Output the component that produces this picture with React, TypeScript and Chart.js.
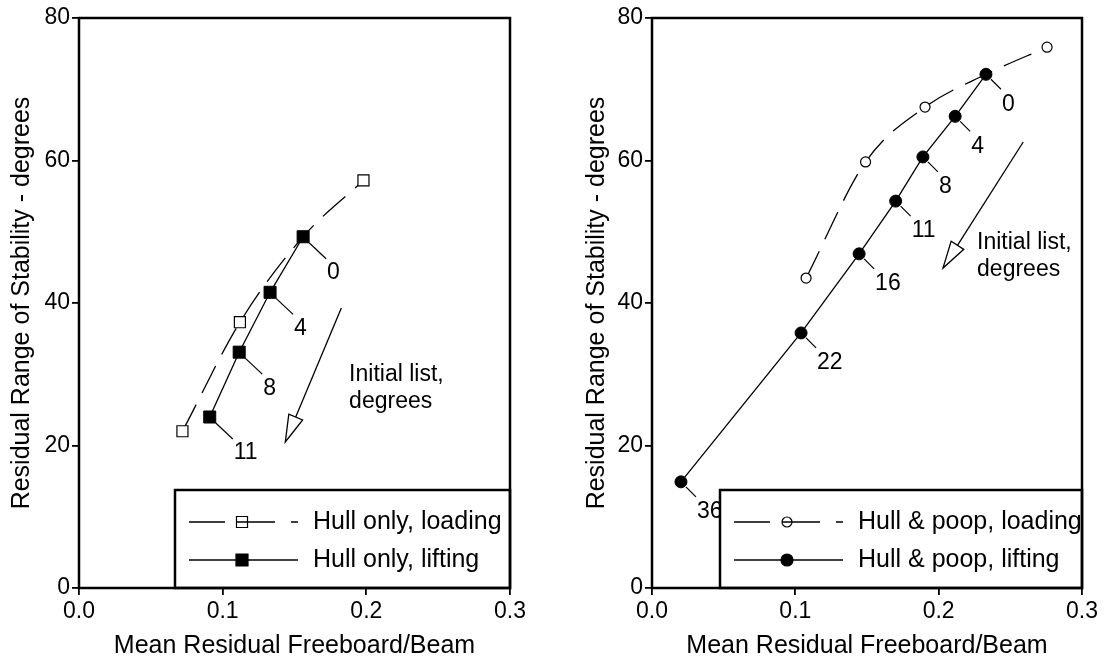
import React, { useEffect, useRef } from "react";
import { Chart, registerables } from "chart.js";

Chart.register(...registerables);

// ---------- data ----------
const xTicks = [0, 0.1, 0.2, 0.3];
const xTickLabels = ["0.0", "0.1", "0.2", "0.3"];
const yTicks = [0, 20, 40, 60, 80];
const yTickLabels = ["0", "20", "40", "60", "80"];

const xAxisTitle = "Mean Residual Freeboard/Beam";
const yAxisTitle = "Residual Range of Stability - degrees";
const noteLines = ["Initial list,", "degrees"];

// Left panel: hull only
const hullLoadingLabel = "Hull only, loading";
const hullLoadingX = [0.072, 0.112, 0.156, 0.198];
const hullLoadingY = [22.0, 37.3, 49.3, 57.2];
const hullLoadingShown = [true, true, false, true];

const hullLiftingLabel = "Hull only, lifting";
const hullLiftingX = [0.091, 0.1115, 0.133, 0.156];
const hullLiftingY = [24.0, 33.1, 41.5, 49.3];
const hullListLabels = ["11", "8", "4", "0"];

const hullArrowFrom = [0.1826, 39.3];
const hullArrowTo = [0.1436, 20.5];
const hullNoteAt = [0.188, 29.9];

// Right panel: hull & poop
const poopLoadingLabel = "Hull & poop, loading";
const poopLoadingX = [0.1075, 0.149, 0.1905, 0.233, 0.2756];
const poopLoadingY = [43.5, 59.8, 67.5, 72.1, 75.9];
const poopLoadingShown = [true, true, true, false, true];

const poopLiftingLabel = "Hull & poop, lifting";
const poopLiftingX = [0.0202, 0.104, 0.1445, 0.17, 0.189, 0.2115, 0.233];
const poopLiftingY = [14.9, 35.8, 46.9, 54.3, 60.5, 66.2, 72.1];
const poopListLabels = ["36", "22", "16", "11", "8", "4", "0"];

const poopArrowFrom = [0.259, 62.6];
const poopArrowTo = [0.203, 44.9];
const poopNoteAt = [0.2268, 48.4];

// ---------- styles ----------
const FONT = '"Liberation Sans", Arial, Helvetica, sans-serif';
const DASH = [30, 13];

type Panel = {
  loading: { label: string; x: number[]; y: number[]; shown: boolean[] };
  lifting: { label: string; x: number[]; y: number[]; tags: string[] };
  marker: "rect" | "circle";
  openRadius: number;
  filledRadius: number;
  arrowFrom: number[];
  arrowTo: number[];
  noteAt: number[];
  yAxisWidth: number;
  padRight: number;
  yTitlePad: number;
  legendLeft: number;
  tagText: { dx: number; dy: number; l0: number; l1x: number; l1y: number };
};

const panels: Panel[] = [
  {
    loading: { label: hullLoadingLabel, x: hullLoadingX, y: hullLoadingY, shown: hullLoadingShown },
    lifting: { label: hullLiftingLabel, x: hullLiftingX, y: hullLiftingY, tags: hullListLabels },
    marker: "rect",
    openRadius: 7.8,
    filledRadius: 8.5,
    arrowFrom: hullArrowFrom,
    arrowTo: hullArrowTo,
    noteAt: hullNoteAt,
    yAxisWidth: 79,
    padRight: 45,
    yTitlePad: 7,
    legendLeft: 175,
    tagText: { dx: 24, dy: 36, l0: 6, l1x: 23, l1y: 22 },
  },
  {
    loading: { label: poopLoadingLabel, x: poopLoadingX, y: poopLoadingY, shown: poopLoadingShown },
    lifting: { label: poopLiftingLabel, x: poopLiftingX, y: poopLiftingY, tags: poopListLabels },
    marker: "circle",
    openRadius: 5,
    filledRadius: 6,
    arrowFrom: poopArrowFrom,
    arrowTo: poopArrowTo,
    noteAt: poopNoteAt,
    yAxisWidth: 97,
    padRight: 28,
    yTitlePad: 27,
    legendLeft: 165,
    tagText: { dx: 16, dy: 30, l0: 5, l1x: 15, l1y: 15 },
  },
];

function drawMarker(
  ctx: CanvasRenderingContext2D,
  style: "rect" | "circle",
  x: number,
  y: number,
  r: number,
  filled: boolean
) {
  ctx.save();
  ctx.beginPath();
  if (style === "rect") {
    const s = r * Math.SQRT1_2;
    ctx.rect(x - s, y - s, 2 * s, 2 * s);
  } else {
    ctx.arc(x, y, r, 0, Math.PI * 2);
  }
  if (filled) {
    ctx.fillStyle = "#000";
    ctx.fill();
  }
  ctx.lineWidth = 1.2;
  ctx.strokeStyle = "#000";
  ctx.stroke();
  ctx.restore();
}

function makeOverlay(p: Panel) {
  return {
    id: "overlay",
    afterDraw(chart: any) {
      const ctx: CanvasRenderingContext2D = chart.ctx;
      const xs = chart.scales.x;
      const ys = chart.scales.y;
      const area = chart.chartArea;
      ctx.save();
      ctx.fillStyle = "#000";
      ctx.strokeStyle = "#000";

      // list tags with leader lines
      ctx.font = `23px ${FONT}`;
      ctx.textAlign = "left";
      ctx.textBaseline = "middle";
      ctx.lineWidth = 1.2;
      p.lifting.x.forEach((xv, i) => {
        const px = xs.getPixelForValue(xv);
        const py = ys.getPixelForValue(p.lifting.y[i]);
        const t = p.tagText;
        ctx.beginPath();
        ctx.moveTo(px + t.l0, py + t.l0);
        ctx.lineTo(px + t.l1x, py + t.l1y);
        ctx.stroke();
        ctx.fillText(p.lifting.tags[i], px + t.dx, py + t.dy);
      });

      // arrow
      const ax0 = xs.getPixelForValue(p.arrowFrom[0]);
      const ay0 = ys.getPixelForValue(p.arrowFrom[1]);
      const ax1 = xs.getPixelForValue(p.arrowTo[0]);
      const ay1 = ys.getPixelForValue(p.arrowTo[1]);
      const dx = ax1 - ax0;
      const dy = ay1 - ay0;
      const len = Math.hypot(dx, dy);
      const ux = dx / len;
      const uy = dy / len;
      const head = 27;
      const half = 7.5;
      const bx = ax1 - ux * head;
      const by = ay1 - uy * head;
      ctx.lineWidth = 1.3;
      ctx.beginPath();
      ctx.moveTo(ax0, ay0);
      ctx.lineTo(bx, by);
      ctx.stroke();
      ctx.beginPath();
      ctx.moveTo(ax1, ay1);
      ctx.lineTo(bx - uy * half, by + ux * half);
      ctx.lineTo(bx + uy * half, by - ux * half);
      ctx.closePath();
      ctx.fillStyle = "#fff";
      ctx.fill();
      ctx.stroke();

      // note
      ctx.fillStyle = "#000";
      const nx = xs.getPixelForValue(p.noteAt[0]);
      const ny = ys.getPixelForValue(p.noteAt[1]);
      noteLines.forEach((s, i) => ctx.fillText(s, nx, ny + i * 27));

      // legend box
      const ll = p.legendLeft;
      const lt = 490;
      ctx.fillStyle = "#fff";
      ctx.fillRect(ll, lt, area.right - ll, area.bottom - lt);
      ctx.lineWidth = 2.5;
      ctx.strokeRect(ll, lt, area.right - ll, area.bottom - lt);
      const rows = [
        { label: p.loading.label, dashed: true, filled: false, r: p.openRadius },
        { label: p.lifting.label, dashed: false, filled: true, r: p.filledRadius },
      ];
      rows.forEach((row, i) => {
        const ry = lt + 32 + i * 38;
        ctx.save();
        ctx.lineWidth = 1.3;
        ctx.strokeStyle = "#000";
        if (row.dashed) ctx.setLineDash([36, 12, 38, 16]);
        ctx.beginPath();
        ctx.moveTo(ll + 14, ry);
        ctx.lineTo(ll + 123, ry);
        ctx.stroke();
        ctx.restore();
        drawMarker(ctx, p.marker, ll + 67, ry, row.r, row.filled);
        ctx.fillStyle = "#000";
        ctx.font = `25px ${FONT}`;
        ctx.textAlign = "left";
        ctx.textBaseline = "middle";
        ctx.fillText(row.label, ll + 138, ry);
      });

      // frame
      ctx.lineWidth = 2.5;
      ctx.strokeStyle = "#000";
      ctx.strokeRect(area.left, area.top, area.right - area.left, area.bottom - area.top);
      ctx.restore();
    },
  };
}

function PanelChart({ p }: { p: Panel }) {
  const ref = useRef<HTMLCanvasElement | null>(null);
  useEffect(() => {
    if (!ref.current) return;
    const tickFont = { family: FONT, size: 23 };
    const titleFont = { family: FONT, size: 25 };
    const chart = new Chart(ref.current, {
      type: "line",
      data: {
        datasets: [
          {
            label: p.loading.label,
            data: p.loading.x.map((x, i) => ({ x, y: p.loading.y[i] })),
            borderColor: "#000",
            borderWidth: 1.3,
            borderDash: DASH,
            cubicInterpolationMode: "monotone",
            pointStyle: p.marker,
            pointRadius: p.loading.shown.map((s) => (s ? p.openRadius : 0)),
            pointBackgroundColor: "#fff",
            pointBorderColor: "#000",
            pointBorderWidth: 1.2,
            fill: false,
          },
          {
            label: p.lifting.label,
            data: p.lifting.x.map((x, i) => ({ x, y: p.lifting.y[i] })),
            borderColor: "#000",
            borderWidth: 1.3,
            tension: 0,
            pointStyle: p.marker,
            pointRadius: p.filledRadius,
            pointBackgroundColor: "#000",
            pointBorderColor: "#000",
            pointBorderWidth: 1,
            fill: false,
          },
        ],
      },
      options: {
        responsive: false,
        animation: false,
        devicePixelRatio: 1,
        layout: { padding: { top: 18, right: p.padRight, left: 0, bottom: 0 } },
        plugins: {
          legend: { display: false },
          tooltip: { enabled: false },
        },
        events: [],
        scales: {
          x: {
            type: "linear",
            min: 0,
            max: 0.3,
            afterBuildTicks: (s: any) => {
              s.ticks = xTicks.map((v) => ({ value: v }));
            },
            afterFit: (s: any) => {
              s.height = 79;
            },
            ticks: {
              autoSkip: false,
              maxRotation: 0,
              padding: 3,
              color: "#000",
              font: tickFont,
              callback: (v: any) => xTickLabels[xTicks.indexOf(Number(v))] ?? "",
            },
            grid: {
              display: true,
              drawOnChartArea: false,
              drawTicks: true,
              tickLength: 7,
              color: "#000",
              lineWidth: 1.8,
            },
            border: { display: false },
            title: {
              display: true,
              text: xAxisTitle,
              color: "#000",
              font: titleFont,
              padding: { top: 0, bottom: 6 },
            },
          },
          y: {
            type: "linear",
            min: 0,
            max: 80,
            afterBuildTicks: (s: any) => {
              s.ticks = yTicks.map((v) => ({ value: v }));
            },
            afterFit: (s: any) => {
              s.width = p.yAxisWidth;
            },
            ticks: {
              autoSkip: false,
              padding: 2,
              color: "#000",
              font: tickFont,
              callback: (v: any) => yTickLabels[yTicks.indexOf(Number(v))] ?? "",
            },
            grid: {
              display: true,
              drawOnChartArea: false,
              drawTicks: true,
              tickLength: 7,
              color: "#000",
              lineWidth: 1.8,
            },
            border: { display: false },
            title: {
              display: true,
              text: yAxisTitle,
              color: "#000",
              font: titleFont,
              padding: { top: p.yTitlePad, bottom: 0 },
            },
          },
        },
      } as any,
      plugins: [makeOverlay(p)],
    });
    return () => chart.destroy();
  }, [p]);
  return <canvas ref={ref} width={555} height={667} style={{ display: "block", width: 555, height: 667 }} />;
}

export default function App() {
  return (
    <div
      style={{
        position: "absolute",
        left: 0,
        top: 0,
        width: 1110,
        height: 667,
        display: "flex",
        background: "#fff",
      }}
    >
      {panels.map((p, i) => (
        <PanelChart key={i} p={p} />
      ))}
    </div>
  );
}
